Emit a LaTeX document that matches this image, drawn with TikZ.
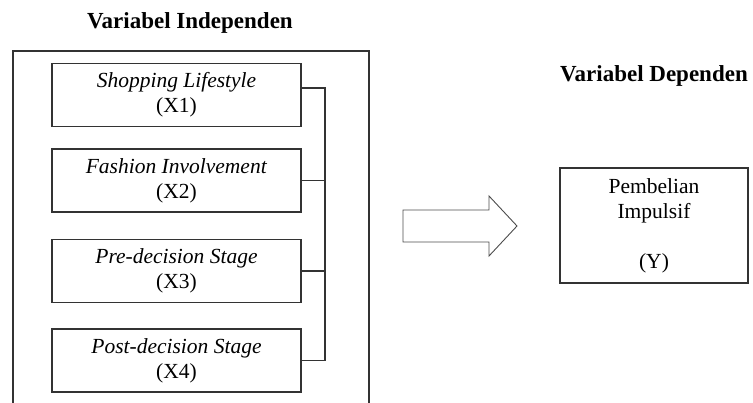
\documentclass[tikz,border=0pt]{standalone}
\usepackage{fontspec}
\setmainfont{Liberation Serif}
\usetikzlibrary{positioning}

\begin{document}
\begin{tikzpicture}[x=1pt,y=-1pt,
    varbox/.style={draw=black!80, line width=1.2pt, inner sep=2pt, align=center,
        font=\fontsize{21.5}{25}\selectfont,
        execute at begin node={\rule{0pt}{24pt}}},
    xbox/.style={varbox, minimum width=249pt, minimum height=63pt},
    heading/.style={anchor=base, font=\fontsize{23}{27}\selectfont\bfseries},
    link/.style={draw=black!80, line width=1.1pt}]
  \useasboundingbox (0,0) rectangle (753,403);
  % independent variables
  \node[heading] (indep) at (190,29) {Variabel Independen};
  \draw[link] (13,403) -- (13,51) -- (369,51) -- (369,403);
  \node[xbox] (x1) at (176.5,95) {\textit{Shopping Lifestyle}\\(X1)};
  \node[xbox] (x2) at (176.5,180.5) {\textit{Fashion Involvement}\\(X2)};
  \node[xbox] (x3) at (176.5,271) {\textit{Pre-decision Stage}\\(X3)};
  \node[xbox] (x4) at (176.5,360.5) {\textit{Post-decision Stage}\\(X4)};
  \coordinate (bus) at (325,0);
  \draw[link] ([yshift=7pt]x1.east) -- ([yshift=7pt]x1.east -| bus) -- (x4.east -| bus) -- (x4.east);
  \draw[link] (x2.east) -- (x2.east -| bus);
  \draw[link] (x3.east) -- (x3.east -| bus);
  % block arrow
  \draw[black!70, line width=0.9pt] (403,210) -- (489,210) -- (489,196) -- (517,226)
      -- (489,256) -- (489,242) -- (403,242) -- cycle;
  % dependent variable
  \node[heading] (dep) at (654,82) {Variabel Dependen};
  \node[varbox, minimum width=188pt, minimum height=115pt] (y) at (654,225.5)
      {Pembelian\\Impulsif\\ \\(Y)};
\end{tikzpicture}
\end{document}
